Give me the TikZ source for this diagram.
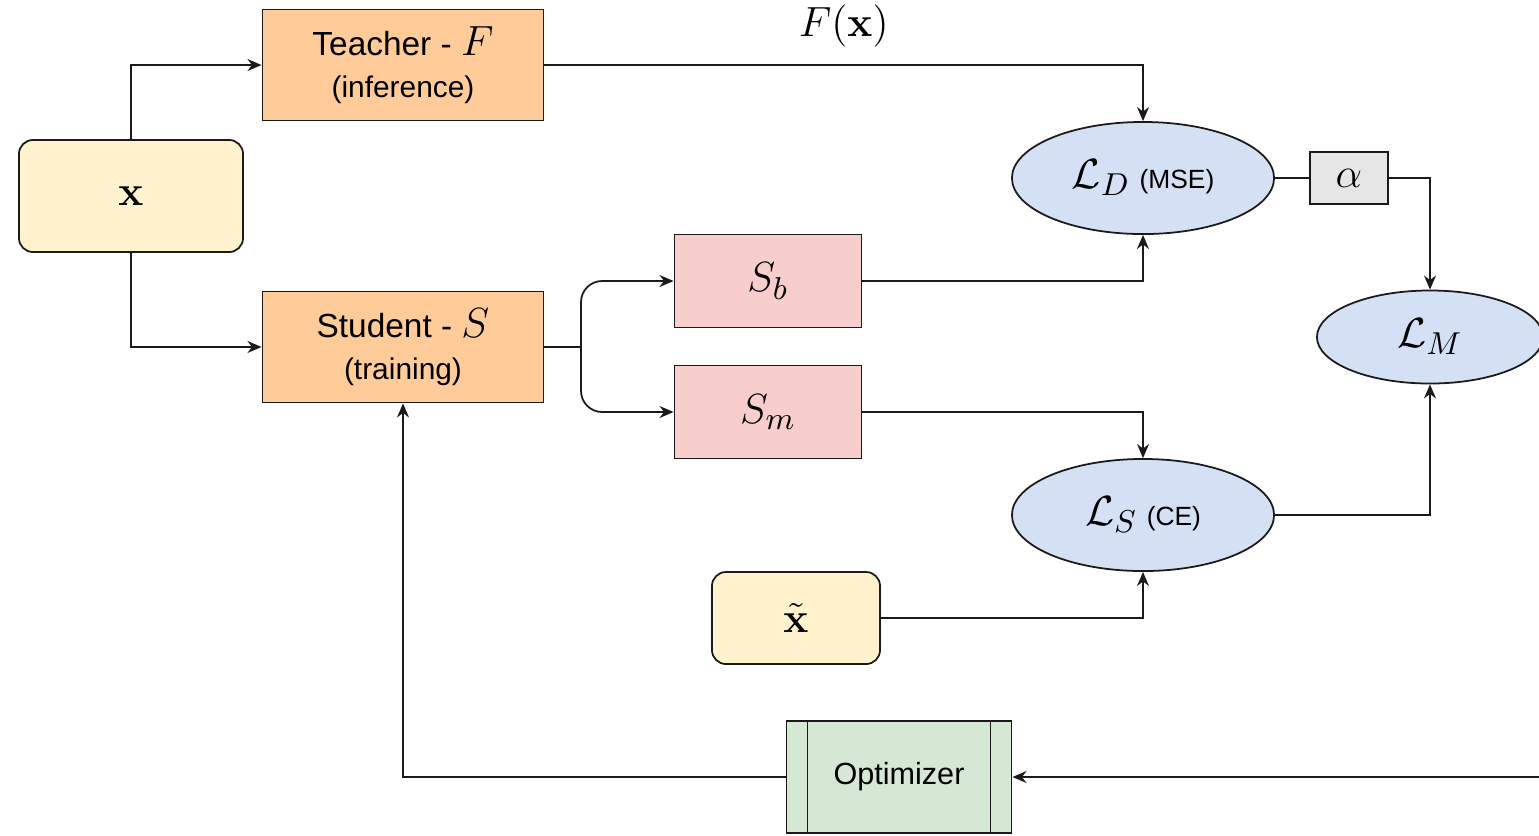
\documentclass[tikz,border=0pt]{standalone}
\usepackage{amsmath,amssymb}
\usepackage[no-math]{fontspec}
\setmainfont{Liberation Sans}
\usetikzlibrary{arrows.meta,positioning,shapes.geometric,calc}
\definecolor{inputfill}{HTML}{FFF2CC}
\definecolor{netfill}{HTML}{FFCC99}
\definecolor{headfill}{HTML}{F8CECC}
\definecolor{lossfill}{HTML}{D4E1F5}
\definecolor{weightfill}{HTML}{E6E6E6}
\definecolor{optfill}{HTML}{D5E8D4}
\definecolor{edge}{HTML}{1A1A1A}
\newcommand{\losskind}[1]{{\fontsize{7.5}{9}\selectfont #1}}
\newcommand{\bigmath}[1]{{\fontsize{12.5}{14}\selectfont$#1$}}
\newcommand{\mode}[1]{{\fontsize{8.5}{10}\selectfont #1}}

\begin{document}
\begin{tikzpicture}[x=0.01cm,y=-0.01cm,>={Stealth[length=4pt,width=3.4pt]},
 every node/.style={font=\fontsize{9.5}{12}\selectfont},
 every path/.style={line width=0.5pt},
 inbox/.style={draw=edge,fill=inputfill,rounded corners=4pt},
 net/.style={draw=edge,fill=netfill,minimum width=2.81cm,minimum height=1.11cm,align=center},
 head/.style={draw=edge,fill=headfill,minimum width=1.87cm,minimum height=0.93cm},
 loss/.style={draw=edge,fill=lossfill,ellipse,inner sep=0pt},
 big/.style={font=\fontsize{12.5}{14}\selectfont}]
\useasboundingbox (0,0) rectangle (1539,835);
\node[inbox,minimum width=2.24cm,minimum height=1.12cm,big] (x) at (131,196) {$\mathbf{x}$};
\node[net] (teacher) at (403,65) {Teacher - \bigmath{F}\\\mode{(inference)}};
\node[net] (student) at (403,347) {Student - \bigmath{S}\\\mode{(training)}};
\node[head,big] (sb) at (768,281) {$S_b$};
\node[head,big] (sm) at (768,412) {$S_m$};
\node[loss,minimum width=2.62cm,minimum height=1.12cm] (ld) at (1143,178)
 {\bigmath{\mathcal{L}_D}\ \losskind{(MSE)}};
\node[loss,minimum width=2.62cm,minimum height=1.12cm] (ls) at (1143,515)
 {\bigmath{\mathcal{L}_S}\ \losskind{(CE)}};
\node[draw=edge,fill=weightfill,minimum width=0.78cm,minimum height=0.52cm,big] (alpha) at (1349,178) {$\alpha$};
\node[loss,minimum width=2.26cm,minimum height=0.93cm,big] (lm) at (1430,337) {$\mathcal{L}_M$};
\node[inbox,minimum width=1.68cm,minimum height=0.92cm,big] (xt) at (796,618) {$\tilde{\mathbf{x}}$};
\node[draw=edge,fill=optfill,minimum width=2.25cm,minimum height=1.12cm,font=\fontsize{8.7}{11}\selectfont] (opt) at (899,777) {Optimizer};
\draw[edge] ($(opt.north west)+(22,0)$) -- ($(opt.south west)+(22,0)$)
 ($(opt.north east)+(-22,0)$) -- ($(opt.south east)+(-22,0)$);
\coordinate (split) at (581,347);
\coordinate (feed) at (1539,777);
\draw[->,edge] (x.north) |- (teacher.west);
\draw[->,edge] (x.south) |- (student.west);
\draw[->,edge] (teacher.east) -| node[pos=.25,above=1.5pt,black,big] {$F(\mathbf{x})$} (ld.north);
\draw[edge] (student.east) -- (split);
\draw[->,edge,rounded corners=6pt] (split) |- (sb.west);
\draw[->,edge,rounded corners=6pt] (split) |- (sm.west);
\draw[->,edge] (sb.east) -| (ld.south);
\draw[->,edge] (sm.east) -| (ls.north);
\draw[->,edge] (xt.east) -| (ls.south);
\draw[edge] (ld.east) -- (alpha.west);
\draw[->,edge] (alpha.east) -| (lm.north);
\draw[->,edge] (ls.east) -| (lm.south);
\draw[->,edge] (feed) -- (opt.east);
\draw[->,edge] (opt.west) -| (student.south);
\end{tikzpicture}
\end{document}
